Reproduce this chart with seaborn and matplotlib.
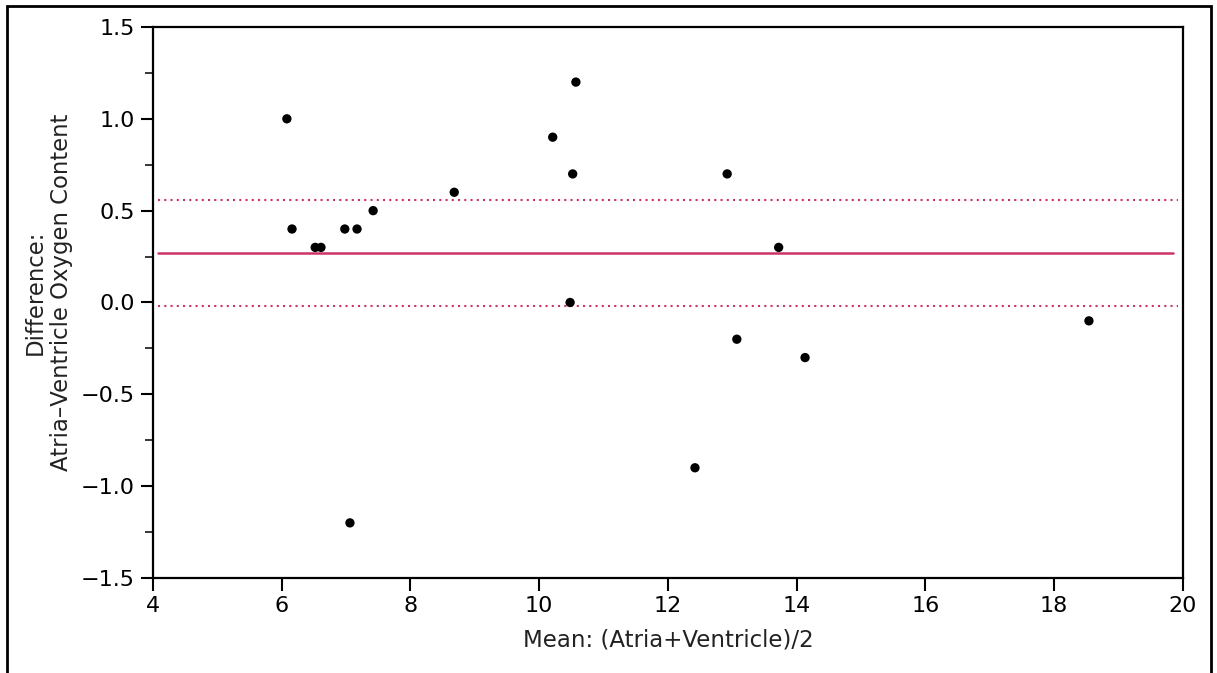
import matplotlib
matplotlib.use("Agg")
import matplotlib.pyplot as plt
import seaborn as sns
import pandas as pd
from matplotlib.patches import Rectangle
from matplotlib.ticker import MultipleLocator

mean_vals = [6.08, 6.16, 6.52, 6.61, 6.98, 7.17, 7.42, 7.06, 8.68, 10.21,
             10.57, 10.52, 10.48, 12.42, 12.92, 13.07, 13.72, 14.13, 18.54]
diff_vals = [1.0, 0.4, 0.3, 0.3, 0.4, 0.4, 0.5, -1.2, 0.6, 0.9,
             1.2, 0.7, 0.0, -0.9, 0.7, -0.2, 0.3, -0.3, -0.1]
mean_diff = 0.27
ci_upper = 0.56
ci_lower = -0.02

x_ticks = [4, 6, 8, 10, 12, 14, 16, 18, 20]
y_ticks = [-1.5, -1.0, -0.5, 0.0, 0.5, 1.0, 1.5]

df = pd.DataFrame({"mean": mean_vals, "diff": diff_vals})

sns.set_style("white")
plt.rcParams["font.family"] = ["DejaVu Sans"]

fig = plt.figure(figsize=(12.17, 6.73), dpi=100)
ax = fig.add_axes([0.1257, 0.1412, 0.8463, 0.8187])

line_color = "#cc3366"
ax.axhline(mean_diff, xmin=0.005, xmax=0.99, color=line_color, lw=1.8, zorder=1)
ax.axhline(ci_upper, xmin=0.005, xmax=0.995, color=line_color, lw=1.5,
           ls=(0, (1, 2.0)), zorder=1)
ax.axhline(ci_lower, xmin=0.005, xmax=0.995, color=line_color, lw=1.5,
           ls=(0, (1, 2.0)), zorder=1)

sns.scatterplot(data=df, x="mean", y="diff", ax=ax, color="black", s=45,
                edgecolor="none", zorder=3)

ax.set_xlim(4, 20)
ax.set_ylim(-1.5, 1.5)
ax.set_xticks(x_ticks)
ax.set_xticklabels([str(t) for t in x_ticks])
ax.set_yticks(y_ticks)
ax.set_yticklabels([f"{t:.1f}".replace("-", "\u2212") for t in y_ticks])
ax.yaxis.set_minor_locator(MultipleLocator(0.25))

for sp in ax.spines.values():
    sp.set_visible(True)
    sp.set_color("black")
    sp.set_linewidth(1.6)

ax.tick_params(axis="both", which="major", direction="out", length=9, width=1.5,
               labelsize=16, colors="black", pad=4)
ax.tick_params(axis="y", which="minor", direction="out", length=6, width=1.3,
               left=True)
ax.tick_params(axis="x", which="major", bottom=True)
ax.tick_params(axis="y", which="major", left=True)

ax.set_xlabel("Mean: (Atria+Ventricle)/2", fontsize=16.5, color="#222222")
ax.xaxis.set_label_coords(0.5, -0.092)
ax.set_ylabel("Difference:\nAtria\u2013Ventricle Oxygen Content", fontsize=16.4,
              color="#222222", linespacing=1.15)
ax.yaxis.set_label_coords(-0.078, 0.518)

border = Rectangle((0.0058, -0.02), 0.989, 1.0116, transform=fig.transFigure,
                   fill=False, edgecolor="black", lw=2.0, clip_on=False)
fig.add_artist(border)

fig.savefig("out.png", dpi=100, facecolor="white")
